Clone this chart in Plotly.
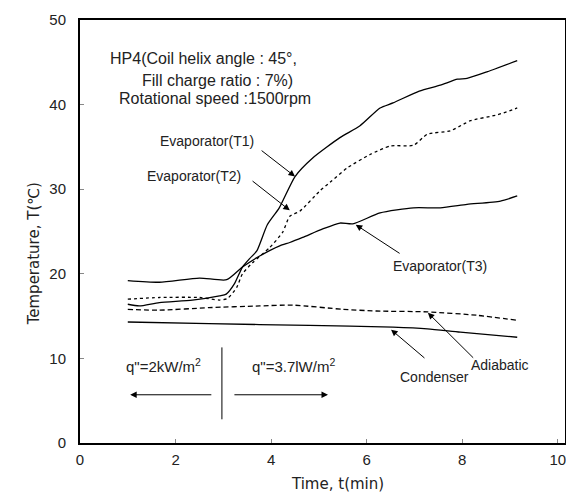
import plotly.graph_objects as go

# Time (min) / temperature (C)
t1_time = [1.0, 1.24, 1.66, 2.35, 2.92, 3.06, 3.23, 3.40, 3.55, 3.70, 3.92, 4.17, 4.50,
           4.87, 5.44, 5.86, 6.28, 6.55, 7.1, 7.54, 7.9, 8.1, 8.53, 9.15]
t1_temp = [16.4, 16.2, 16.6, 16.9, 17.4, 17.6, 18.8, 20.8, 21.8, 22.7, 25.8, 27.8, 31.5,
           33.7, 36.1, 37.5, 39.6, 40.2, 41.6, 42.3, 43.0, 43.1, 43.9, 45.2]

t2_time = [1.0, 1.66, 2.5, 2.92, 3.09, 3.28, 3.40, 3.61, 3.97, 4.24, 4.39, 4.6, 5.02,
           5.23, 5.59, 6.07, 6.49, 6.98, 7.27, 7.75, 8.03, 8.17, 8.74, 9.15]
t2_temp = [17.0, 17.2, 17.2, 16.9, 17.1, 18.4, 20.0, 21.3, 23.1, 24.9, 26.8, 27.4, 29.8,
           30.8, 32.5, 34.1, 35.1, 35.2, 36.5, 36.9, 37.7, 38.1, 38.8, 39.6]

t3_time = [1.0, 1.66, 2.5, 3.07, 3.40, 3.76, 4.18, 4.39, 4.66, 5.08, 5.44, 5.71, 6.28,
           6.98, 7.54, 8.1, 8.8, 9.15]
t3_temp = [19.2, 19.0, 19.5, 19.3, 20.8, 22.1, 23.3, 23.7, 24.3, 25.3, 26.0, 25.9, 27.2,
           27.8, 27.8, 28.2, 28.6, 29.2]

adia_time = [1.0, 1.66, 2.7, 3.76, 4.45, 5.5, 6.2, 7.27, 8.3, 9.15]
adia_temp = [15.8, 15.7, 16.0, 16.2, 16.3, 15.8, 15.6, 15.5, 15.1, 14.5]

cond_time = [1.0, 2.7, 4.8, 6.55, 7.27, 7.96, 9.15]
cond_temp = [14.3, 14.1, 13.9, 13.7, 13.5, 13.1, 12.5]

x_ticks = [0, 2, 4, 6, 8, 10]
y_ticks = [0, 10, 20, 30, 40, 50]

FONT = "Liberation Sans"
INK = "#222222"

fig = go.Figure()

def add_line(x, y, dash):
    fig.add_trace(go.Scatter(x=x, y=y, mode="lines",
                             line=dict(color="black", width=1.3, dash=dash,
                                       shape="spline", smoothing=0.6),
                             showlegend=False, hoverinfo="skip"))

add_line(t1_time, t1_temp, "solid")
add_line(t2_time, t2_temp, "dot")
add_line(t3_time, t3_temp, "solid")
add_line(adia_time, adia_temp, "5px,3px")
add_line(cond_time, cond_temp, "solid")

# labels with pointer arrows: (text, text x, text y, tail x, tail y, tip x, tip y)
labels = [
    ("Evaporator(T1)", 2.66, 35.7, 3.77, 34.7, 4.50, 31.5),
    ("Evaporator(T2)", 2.39, 31.6, 3.58, 31.1, 4.39, 27.5),
    ("Evaporator(T3)", 7.53, 20.9, 6.72, 22.3, 5.77, 25.8),
    ("Adiabatic", 8.79, 9.2, 8.26, 9.9, 7.28, 15.4),
    ("Condenser", 7.41, 7.8, 7.24, 9.9, 6.51, 13.4),
]
for txt, tx, ty, ax, ay, hx, hy in labels:
    fig.add_annotation(x=tx, y=ty, text=txt, showarrow=False,
                       font=dict(family=FONT, size=14, color=INK))
    fig.add_annotation(x=hx, y=hy, ax=ax, ay=ay, axref="x", ayref="y", text="",
                       showarrow=True, arrowhead=2, arrowsize=1.3, arrowwidth=1,
                       arrowcolor="black", standoff=0)

# header text
header = [
    ("HP4(Coil helix angle : 45°,", 0.58, 45.4),
    ("Fill charge ratio : 7%)", 1.25, 42.9),
    ("Rotational speed :1500rpm", 0.78, 40.7),
]
for txt, hx, hy in header:
    fig.add_annotation(x=hx, y=hy, text=txt, showarrow=False, xanchor="left",
                       font=dict(family=FONT, size=16, color=INK))

# heat flux region markers
fig.add_annotation(x=1.74, y=9.2, text='q"=2kW/m<sup>2</sup>', showarrow=False,
                   font=dict(family=FONT, size=15, color=INK))
fig.add_annotation(x=4.46, y=9.2, text='q"=3.7lW/m<sup>2</sup>', showarrow=False,
                   font=dict(family=FONT, size=15, color=INK))
fig.add_shape(type="line", x0=2.97, x1=2.97, y0=2.8, y1=11.3,
              line=dict(color="black", width=1))
fig.add_annotation(x=1.05, y=5.7, ax=2.78, ay=5.7, axref="x", ayref="y", text="",
                   showarrow=True, arrowhead=2, arrowsize=1.3, arrowwidth=1,
                   arrowcolor="black", standoff=0)
fig.add_annotation(x=5.19, y=5.7, ax=3.2, ay=5.7, axref="x", ayref="y", text="",
                   showarrow=True, arrowhead=2, arrowsize=1.3, arrowwidth=1,
                   arrowcolor="black", standoff=0)

# axis titles placed as in the reference
fig.add_annotation(x=5.38, y=0, yref="paper", yshift=-41, yanchor="middle",
                   borderpad=0, text="Time, t(min)", showarrow=False,
                   font=dict(family="DejaVu Sans", size=15, color=INK))
fig.add_annotation(x=0, xref="paper", xshift=-46, xanchor="center", y=22.3,
                   yanchor="middle", text="Temperature, T(℃)", textangle=-90,
                   showarrow=False, font=dict(family="DejaVu Sans", size=15, color=INK))

axis_common = dict(showgrid=False, zeroline=False, showline=True, linecolor="black",
                   linewidth=2, mirror=True, ticks="inside", ticklen=4,
                   tickcolor="#888888", automargin=False,
                   tickfont=dict(family=FONT, size=15, color=INK))

fig.update_xaxes(range=[0, 10.15], tickvals=x_ticks, ticklabelstandoff=2, **axis_common)
fig.update_yaxes(range=[0, 50], tickvals=y_ticks, ticklabelstandoff=9, **axis_common)

fig.update_layout(width=574, height=494, plot_bgcolor="white", paper_bgcolor="white",
                  margin=dict(l=72, r=17, t=12, b=59))

fig.write_html("out.html")
